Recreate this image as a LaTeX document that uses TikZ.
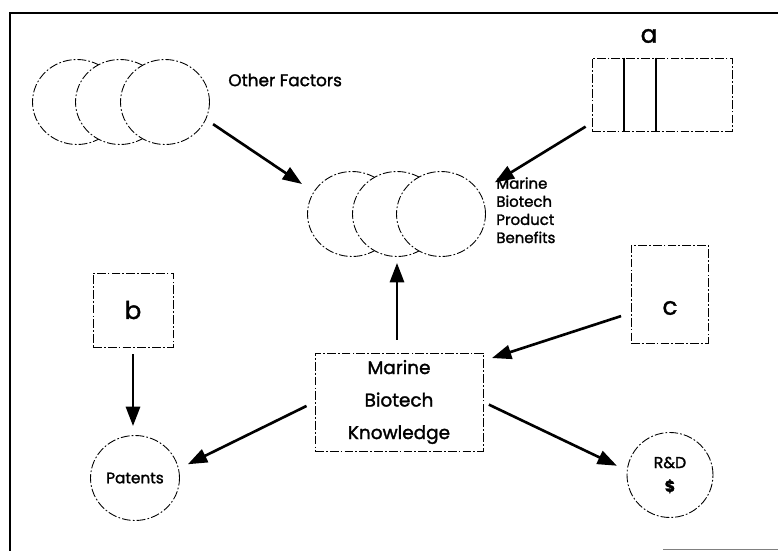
\documentclass[tikz,border=0pt]{standalone}
\usepackage{fontspec}
\setmainfont{Poppins}[RawFeature={embolden=1.6}]
\usetikzlibrary{positioning,shapes.geometric,arrows.meta}

\begin{document}
\begin{tikzpicture}[x=0.02cm, y=-0.02cm,
    outline/.style={draw, line width=0.5pt, dash pattern=on 5pt off 1.2pt on 1pt off 1.2pt},
    disc/.style={outline, ellipse, fill=white, inner sep=0pt, minimum width=1.78cm, minimum height=1.7cm},
    slot/.style={outline, rectangle, inner sep=0pt},
    letter/.style={font=\fontsize{14}{16}\selectfont},
    caption/.style={font=\fontsize{8.5}{10.3}\selectfont, align=left, inner sep=0pt},
    arr/.style={line width=1.5pt, -{Triangle[length=11pt,width=8pt]}}]
        \useasboundingbox (0,0) rectangle (778,551);
        \draw[line width=0.8pt] (10,551) -- (10,13) -- (778,13);
        \draw[line width=0.5pt, gray] (663,549) -- (778,549);

        % other factors
        \node[disc] (of1) at (77,102) {};
        \node[disc] (of2) at (120,102) {};
        \node[disc] (of3) at (165,102) {};
        \node[caption, anchor=west, font=\fontsize{9.6}{11}\selectfont] (oflabel) at (228,80) {Other Factors};

        % product benefits
        \node[disc] (ben1) at (352,214) {};
        \node[disc] (ben2) at (397,214) {};
        \node[disc] (ben3) at (441,214) {};
        \node[caption, anchor=north west] (benlabel) at (496,177) {Marine\\Biotech\\Product\\Benefits};

        % boxes a, b, c
        \node[slot, minimum width=2.8cm, minimum height=1.46cm] (a) at (662,94.5) {};
        \foreach \x in {624,656}
          \draw[line width=0.6pt] (\x,0 |- a.north) -- (\x,0 |- a.south);
        \node[letter] (alabel) at (649,36) {a};
        \node[slot, letter, minimum width=1.6cm, minimum height=1.48cm] (b) at (133,310) {b};
        \node[slot, minimum width=1.54cm, minimum height=1.96cm] (c) at (669.5,294) {};
        \node[letter] (clabel) at (670,308) {c};

        % knowledge and outcomes
        \node[slot, minimum width=3.36cm, minimum height=1.96cm, align=center,
              font=\fontsize{10.5}{18.5}\selectfont] (know) at (399,402) {Marine\\Biotech\\Knowledge};
        \node[disc, font=\fontsize{8.7}{10}\selectfont] (pat) at (135,478) {Patents};
        \node[disc, align=center, minimum width=1.72cm, font=\fontsize{9}{13.5}\selectfont] (rd) at (670,475) {R\&D\\\textbf{\$}};

        \draw[arr, shorten <=0.17cm, shorten >=0.28cm] (of3.-23) -- (ben1.150);
        \draw[arr, shorten <=0.14cm, shorten >=0.36cm] (a.202) -- (ben3.30);
        \draw[arr, shorten <=0.26cm, shorten >=0.12cm] (know.north -| ben2.south) -- (ben2.south);
        \draw[arr, shorten <=0.2cm, shorten >=0.18cm] (c.206) -- (know.26);
        \draw[arr, shorten <=0.18cm, shorten >=0.2cm] (know.west) -- (pat.12);
        \draw[arr, shorten <=0.12cm, shorten >=0.22cm] (know.east) -- (rd.174);
        \draw[arr, shorten <=0.14cm, shorten >=0.18cm] (b.south) -- (b.south |- pat.north);
\end{tikzpicture}
\end{document}
